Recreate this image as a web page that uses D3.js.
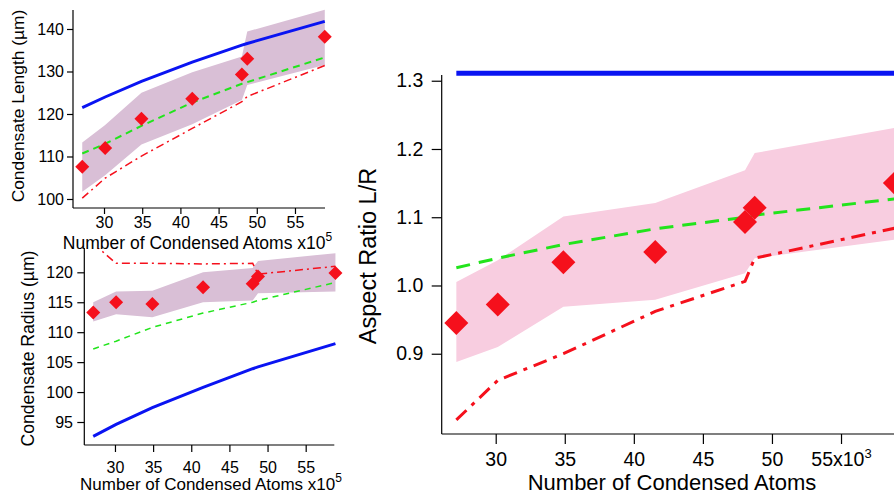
<!DOCTYPE html>
<html><head><meta charset="utf-8">
<script src="https://cdn.jsdelivr.net/npm/d3@7"></script>
<style>
body{margin:0;background:#fff}
svg{display:block}
text{font-family:"Liberation Sans",Arial,Helvetica,sans-serif;fill:#000}
</style>
</head><body>
<svg id="c" width="894" height="497"></svg>
<script>
// ---- data (x in units of 10^5 / 10^3 atoms as labelled) ----
const atoms = [27.15, 30.15, 34.9, 41.55, 48.05, 48.75, 58.9];

const lengthMeas   = [107.6, 112.0, 118.9, 123.6, 129.3, 133.0, 138.2];
const lengthBandHi = [113.3, 117.4, 125.0, 129.8, 133.5, 139.4, 144.5];
const lengthBandLo = [101.7, 105.6, 112.8, 117.6, 123.3, 126.8, 131.5];
const lengthBlue   = [121.5, 124.0, 127.7, 132.2, 136.2, 136.6, 141.8];
const lengthGreen  = [110.7, 113.0, 117.2, 122.7, 127.1, 127.5, 133.3];
const lengthRed    = [100.2, 104.9, 110.1, 116.6, 122.9, 124.1, 131.4];

const radiusMeas   = [113.3, 115.0, 114.7, 117.5, 118.1, 119.3, 119.9];
const radiusBandHi = [115.0, 116.8, 116.9, 120.0, 120.7, 121.9, 123.2];
const radiusBandLo = [111.8, 113.0, 112.5, 115.0, 115.3, 116.5, 116.8];
const radiusBlue   = [92.6, 94.6, 97.4, 100.8, 103.9, 104.2, 108.1];
const radiusGreen  = [107.2, 108.5, 110.8, 113.2, 115.0, 115.3, 118.3];
const radiusRed    = [124.8, 121.5, 121.5, 121.4, 121.5, 119.7, 121.0];

const ratioMeas   = [0.945, 0.972, 1.034, 1.049, 1.093, 1.114, 1.150];
const ratioBandHi = [1.005, 1.037, 1.101, 1.121, 1.169, 1.194, 1.231];
const ratioBandLo = [0.888, 0.910, 0.969, 0.979, 1.018, 1.040, 1.067];
const ratioBlue   = [1.311, 1.311, 1.311, 1.311, 1.311, 1.311, 1.311];
const ratioGreen  = [1.026, 1.040, 1.060, 1.083, 1.100, 1.103, 1.127];
const ratioRed    = [0.803, 0.861, 0.900, 0.962, 1.006, 1.040, 1.084];

const xTicks = [30, 35, 40, 45, 50, 55];
const lengthTicks = [100, 110, 120, 130, 140];
const radiusTicks = [95, 100, 105, 110, 115, 120];
const ratioTicks = [0.9, 1.0, 1.1, 1.2, 1.3];

// ---- styling ----
const BLUE = "#0a14f2", GREEN = "#22e41c", RED = "#f5101c";
const svg = d3.select("#c");
const defs = svg.append("defs");

function panel(cfg) {
  const x = d3.scaleLinear().domain(cfg.xDomain).range([cfg.x0, cfg.x1]);
  const y = d3.scaleLinear().domain(cfg.yDomain).range([cfg.y1, cfg.y0]);
  const g = svg.append("g");
  const id = "clip" + cfg.name;
  defs.append("clipPath").attr("id", id).append("rect")
    .attr("x", cfg.x0).attr("y", cfg.clipTop).attr("width", 1000).attr("height", cfg.y1 - cfg.clipTop + 20);
  const pg = g.append("g").attr("clip-path", `url(#${id})`);

  const rows = atoms.map((a, i) => ({x: a, hi: cfg.bandHi[i], lo: cfg.bandLo[i], m: cfg.meas[i],
    b: cfg.blue[i], gr: cfg.green[i], r: cfg.red[i]}));

  pg.append("path").datum(rows)
    .attr("d", d3.area().x(d => x(d.x)).y0(d => y(d.lo)).y1(d => y(d.hi)))
    .attr("fill", cfg.bandColor);

  const line = key => d3.line().x(d => x(d.x)).y(d => y(d[key]));
  pg.append("path").datum(rows).attr("d", line("b")).attr("fill", "none")
    .attr("stroke", BLUE).attr("stroke-width", cfg.blueW);
  pg.append("path").datum(rows).attr("d", line("gr")).attr("fill", "none")
    .attr("stroke", GREEN).attr("stroke-width", cfg.greenW).attr("stroke-dasharray", cfg.greenDash);
  pg.append("path").datum(rows).attr("d", line("r")).attr("fill", "none")
    .attr("stroke", RED).attr("stroke-width", cfg.redW).attr("stroke-dasharray", cfg.redDash);

  const r = cfg.diam;
  pg.selectAll(".dm").data(rows).join("path")
    .attr("d", `M0,${-r}L${r},0L0,${r}L${-r},0Z`)
    .attr("transform", d => `translate(${x(d.x)},${y(d.m)})`)
    .attr("fill", RED);

  // axes
  const ax = g.append("g").attr("transform", `translate(0,${cfg.y1})`)
    .call(d3.axisBottom(x).tickValues(xTicks).tickSize(cfg.tick).tickSizeOuter(0)
      .tickFormat(d3.format("d")));
  ax.selectAll("text").attr("dy", null).attr("y", cfg.xLabOff).style("font-size", cfg.tickFont + "px");
  const ay = g.append("g").attr("transform", `translate(${cfg.x0},0)`)
    .call(d3.axisLeft(y).tickValues(cfg.yTicks).tickSize(cfg.tick).tickSizeOuter(0)
      .tickPadding(cfg.yPad).tickFormat(cfg.yFmt));
  ay.selectAll("text").style("font-size", cfg.tickFont + "px");
  [ax, ay].forEach(a => { a.select(".domain").attr("stroke", "#000").attr("stroke-width", 1.2);
    a.selectAll(".tick line").attr("stroke", "#000").attr("stroke-width", 1.2); });
  ay.select(".domain").attr("d", `M0,${cfg.y0}V${cfg.y1}`);
  ax.select(".domain").attr("d", `M${cfg.x0},0H${cfg.x1}`);
  return {x, y, g, ax};
}

// top-left: condensate length
const tl = panel({name: "tl", x0: 73, x1: 325, y0: 10, y1: 208, clipTop: 0,
  xDomain: [25.94, 58.93], yDomain: [97.88, 144.47],
  bandHi: lengthBandHi, bandLo: lengthBandLo, meas: lengthMeas,
  blue: lengthBlue, green: lengthGreen, red: lengthRed, bandColor: "#d9bfd6",
  blueW: 3, greenW: 2, greenDash: "7,5", redW: 1.5, redDash: "8,4,2,4", diam: 7,
  tick: 6, xLabOff: 19.5, yPad: 3, tickFont: 16, yTicks: lengthTicks, yFmt: d3.format("d")});

// bottom-left: condensate radius
const bl = panel({name: "bl", x0: 84.3, x1: 334.3, y0: 248, y1: 445, clipTop: 248,
  xDomain: [25.98, 58.75], yDomain: [91.16, 124.06],
  bandHi: radiusBandHi, bandLo: radiusBandLo, meas: radiusMeas,
  blue: radiusBlue, green: radiusGreen, red: radiusRed, bandColor: "#d9bfd6",
  blueW: 3, greenW: 1.5, greenDash: "6,5", redW: 1.5, redDash: "8,4,2,4", diam: 7,
  tick: 7, xLabOff: 28, yPad: 4.3, tickFont: 16, yTicks: radiusTicks, yFmt: d3.format("d")});

// main: aspect ratio
const mn = panel({name: "mn", x0: 441.7, x1: 900, y0: 75, y1: 434, clipTop: 0,
  xDomain: [26.09, 59.27], yDomain: [0.7824, 1.3084],
  bandHi: ratioBandHi, bandLo: ratioBandLo, meas: ratioMeas,
  blue: ratioBlue, green: ratioGreen, red: ratioRed, bandColor: "#f8cde0",
  blueW: 5, greenW: 3, greenDash: "14,9", redW: 3, redDash: "14,7,4,7", diam: 12,
  tick: 10, xLabOff: 32, yPad: 8.4, tickFont: 19.5, yTicks: ratioTicks, yFmt: d3.format(".1f")});

// "55x10^3" label in main panel
mn.ax.selectAll(".tick text").filter(d => d === 55).each(function () {
  const t = d3.select(this); t.text("55x10");
  t.append("tspan").attr("dy", -8).style("font-size", "13px").text("3");
});

// axis titles
function xTitle(cx, y, size, sup) {
  const t = svg.append("text").attr("x", cx).attr("y", y).attr("text-anchor", "middle")
    .style("font-size", size + "px").text("Number of Condensed Atoms" + (sup ? " x10" : ""));
  if (sup) t.append("tspan").attr("dy", -8).style("font-size", "12px").text(sup);
}
xTitle(197.5, 249, 17.5, "5");
xTitle(211, 489.5, 17, "5");
xTitle(672, 490, 22, null);

function yTitle(x, cy, size, label) {
  svg.append("text").attr("transform", `translate(${x},${cy}) rotate(-90)`)
    .attr("text-anchor", "middle").style("font-size", size + "px").text(label);
}
yTitle(23.5, 106, 17.4, "Condensate Length (\u00b5m)");
yTitle(33.5, 348.5, 17.6, "Condensate Radius (\u00b5m)");
yTitle(376, 256, 23.5, "Aspect Ratio L/R");
</script>
</body></html>
